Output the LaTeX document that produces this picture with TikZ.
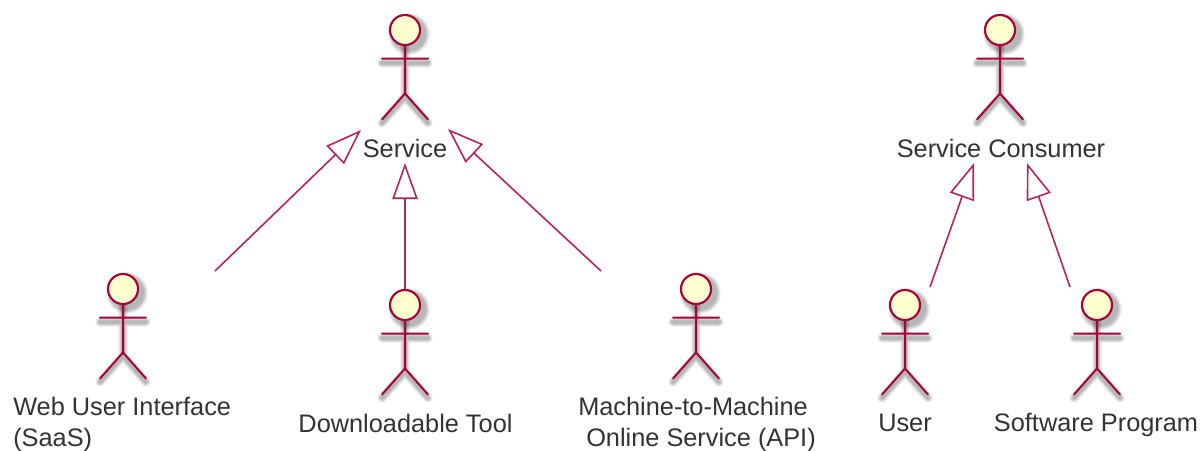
\documentclass[tikz,border=0pt]{standalone}
\usepackage{fontspec}
\setmainfont{Liberation Sans}
\usetikzlibrary{arrows.meta}
\definecolor{umlred}{HTML}{A80036}
\definecolor{umlfill}{HTML}{FEFECE}
\definecolor{umltext}{HTML}{333333}
\tikzset{
  x=0.75pt,y=-0.75pt,
  limb/.style={draw=umlred,line width=1.5pt,line cap=round},
  headcirc/.style={circle,draw=umlred,line width=1.6pt,fill=umlfill,minimum size=22.5pt,inner sep=0pt},
  label/.style={text=umltext,font=\fontsize{19}{23.5}\selectfont,inner sep=0pt,align=center},
  genarrow/.style={draw=umlred!85!white,line width=1.2pt,-{Triangle[open,fill=white,length=27pt,width=19pt]}},
}
% #1 name, #2 x, #3 head-centre y
\newcommand{\umlactor}[3]{%
  \begin{scope}[shift={(#2,#3)}]
    \foreach \o/\a in {6/0.05,5/0.06,4/0.07,3/0.07,2/0.06}{
      \fill[black,opacity=\a] (4,4) circle ({15+\o});
      \draw[black,opacity=\a,line width={\o*1.2pt},line cap=round] (-23,33) -- (23,33)
        (0,15) -- (0,67) (-23,93) -- (0,67) -- (23,93);
    }
    \path[limb] (-23,28.5) -- (23,28.5) (0,15) -- (0,63.5) (-23,89.5) -- (0,63.5) -- (23,89.5);
    \node[headcirc] (#1) at (0,0) {};
  \end{scope}}
\begin{document}
\begin{tikzpicture}
\useasboundingbox (0,0) rectangle (1200,450);
\fill[white] (0,0) rectangle (1200,450);
\umlactor{service}{405}{30}
\umlactor{consumer}{1000}{30}
\umlactor{web}{123}{289}
\umlactor{tool}{405}{305}
\umlactor{api}{696}{289}
\umlactor{user}{905}{305}
\umlactor{program}{1097}{305}
\node[label] (servicelabel) at (405,148) {Service};
\node[label] (consumerlabel) at (1001,148) {Service Consumer};
\node[label,anchor=north west,align=left] (weblabel) at (13,397) {Web User Interface\\(SaaS)};
\node[label] (toollabel) at (405.5,423) {Downloadable Tool};
\node[label,anchor=north west,align=left] (apilabel) at (578,397) {Machine-to-Machine\\\hspace{6pt}Online Service (API)};
\node[label] (userlabel) at (905,423) {User};
\node[label] (programlabel) at (1096,425) {Software Program};
\coordinate (webfrom) at (215,271);
\coordinate (webto) at (361,130);
\coordinate (toolfrom) at (405,289);
\coordinate (toolto) at (405,163);
\coordinate (apifrom) at (601,271);
\coordinate (apito) at (448,129);
\coordinate (userfrom) at (930,287);
\coordinate (userto) at (974,163);
\coordinate (programfrom) at (1070,287);
\coordinate (programto) at (1027,163);
\draw[genarrow] (webfrom) -- (webto);
\draw[genarrow] (toolfrom) -- (toolto);
\draw[genarrow] (apifrom) -- (apito);
\draw[genarrow] (userfrom) -- (userto);
\draw[genarrow] (programfrom) -- (programto);
\end{tikzpicture}
\end{document}
